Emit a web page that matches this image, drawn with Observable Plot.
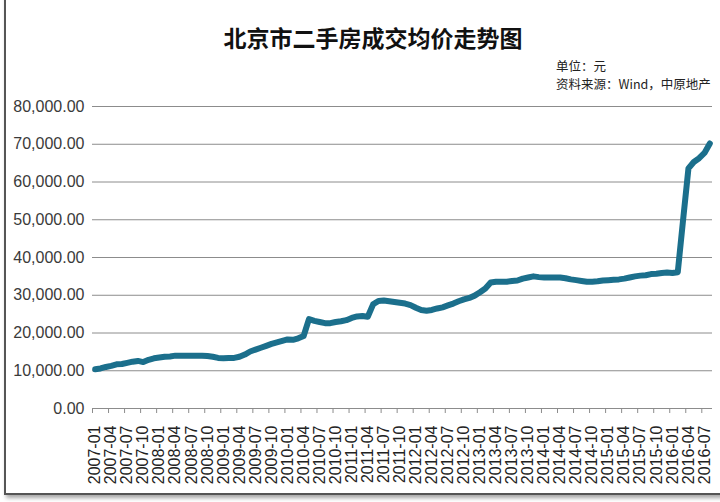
<!DOCTYPE html>
<html><head><meta charset="utf-8">
<script src="https://cdn.jsdelivr.net/npm/d3@7"></script>
<script src="https://cdn.jsdelivr.net/npm/@observablehq/plot@0.6"></script>
<style>
body{margin:0;background:#fff;}
#wrap{position:relative;width:720px;height:502px;overflow:hidden;background:#fff;font-family:"Liberation Sans",Arial,sans-serif;}
#frame{position:absolute;left:4px;top:-20px;width:740px;height:513px;border-left:2px solid #555;border-bottom:2px solid #555;box-shadow:2px 3px 4px rgba(0,0,0,0.35);pointer-events:none;}
#head{position:relative;height:92px;}
#title{position:absolute;left:0;width:746px;text-align:center;top:21px;font-weight:bold;font-size:23px;font-family:"Noto Sans CJK SC",sans-serif;color:#111;line-height:32px;}
#note{position:absolute;left:556px;top:57px;font-size:12.5px;font-family:"Noto Sans CJK SC",sans-serif;color:#222;line-height:18px;}
#chart svg{display:block;}
</style></head>
<body>
<div id="wrap">
  <div id="head">
    <div id="title">北京市二手房成交均价走势图</div>
    <div id="note">单位：元<br>资料来源：Wind，中原地产</div>
  </div>
  <div id="chart"></div>
  <div id="frame"></div>
</div>
<script>
const startMonth = "2007-01";
const monthCount = 116;
const prices = [
  10400, 10600, 11000, 11300, 11700, 11800, 12100, 12400, 12600, 12300, 12900, 13300,
  13500, 13700, 13800, 14000, 14000, 14000, 14000, 14000, 14000, 13900, 13700, 13400,
  13300, 13400, 13400, 13700, 14300, 15100, 15600, 16100, 16600, 17100, 17500, 17900,
  18300, 18200, 18600, 19200, 23700, 23200, 22900, 22600, 22600, 22900, 23100, 23400,
  24000, 24400, 24500, 24300, 27600, 28500, 28600, 28400, 28200, 28000, 27800, 27400,
  26700, 26100, 25900, 26100, 26500, 26800, 27300, 27800, 28400, 28900, 29300, 29900,
  30800, 31800, 33400, 33600, 33600, 33600, 33800, 33900, 34400, 34700, 35000, 34800,
  34700, 34700, 34700, 34700, 34500, 34200, 34000, 33800, 33600, 33600, 33700, 33900,
  34000, 34100, 34200, 34400, 34700, 35000, 35200, 35300, 35600, 35700, 35900, 36000,
  35900, 36100, 50000, 63600, 65300, 66300, 67700, 70200
];
const tickLabels = [
  "2007-01","2007-04","2007-07","2007-10","2008-01","2008-04","2008-07","2008-10",
  "2009-01","2009-04","2009-07","2009-10","2010-01","2010-04","2010-07","2010-10",
  "2011-01","2011-04","2011-07","2011-10","2012-01","2012-04","2012-07","2012-10",
  "2013-01","2013-04","2013-07","2013-10","2014-01","2014-04","2014-07","2014-10",
  "2015-01","2015-04","2015-07","2015-10","2016-01","2016-04","2016-07"
];
const yTicks = [0, 10000, 20000, 30000, 40000, 50000, 60000, 70000, 80000];

const fmtMonth = d3.utcFormat("%Y-%m");
const start = d3.utcParse("%Y-%m")(startMonth);
const months = d3.range(monthCount).map(i => fmtMonth(d3.utcMonth.offset(start, i)));
const data = months.map((m, i) => ({month: m, price: prices[i]}));

const W = 720, mL = 92, mR = 8;
const halfStep = (W - mL - mR) / months.length / 2;

const chart = Plot.plot({
  width: W,
  height: 410,
  marginTop: 14,
  marginBottom: 94,
  marginLeft: mL,
  marginRight: mR,
  style: {fontFamily: '"Liberation Sans", Arial, sans-serif', background: "#fff", color: "#333"},
  x: {type: "point", domain: months, padding: 0.5},
  y: {domain: [0, 80000]},
  marks: [
    Plot.ruleY(yTicks, {stroke: "#8c8c8c", strokeWidth: 1}),
    Plot.axisY({ticks: yTicks, tickSize: 0, tickPadding: 8, tickFormat: d3.format(",.2f"), fontSize: 16, fill: "#3a3a3a", label: null}),
    Plot.axisX({ticks: tickLabels, tickSize: 0, tickRotate: -90, tickPadding: 17, fontSize: 16, fill: "#222", label: null}),
    Plot.axisX({ticks: tickLabels, tickSize: 5, tickFormat: () => "", dx: -halfStep, stroke: "#8c8c8c", label: null}),
    Plot.line(data, {x: "month", y: "price", stroke: "#1b6f8c", strokeWidth: 6, strokeLinejoin: "round", strokeLinecap: "round"})
  ]
});
document.getElementById("chart").appendChild(chart);
</script>
</body></html>
